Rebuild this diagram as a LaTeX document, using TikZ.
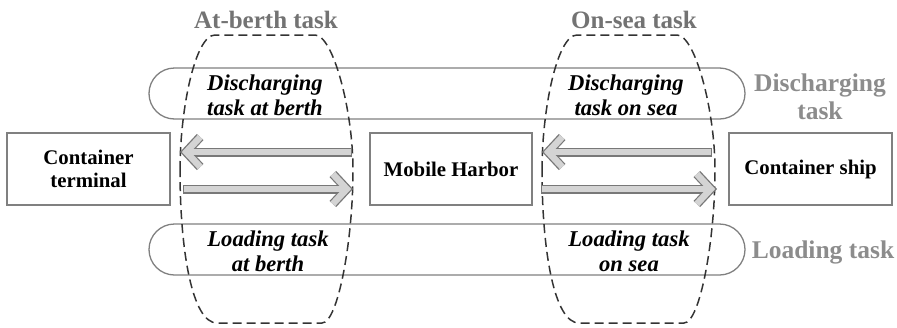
\documentclass[tikz,border=0pt]{standalone}
\usepackage{fontspec}
\setmainfont{Liberation Serif}
\usetikzlibrary{arrows.meta}
\definecolor{boxline}{RGB}{128,128,128}
\definecolor{tasktop}{RGB}{115,115,115}
\definecolor{taskside}{RGB}{140,140,140}
\definecolor{arrline}{RGB}{120,120,120}
\definecolor{arrfill}{RGB}{212,212,212}

\begin{document}
\begin{tikzpicture}[
    x=1pt, y=-1pt,
    party/.style={draw=boxline, line width=1.3pt, minimum width=163pt,
                  minimum height=72pt, align=center,
                  font=\fontsize{20.8}{23}\selectfont\bfseries},
    band/.style={draw=boxline, line width=1.3pt, rounded corners=25.5pt,
                 minimum width=596pt, minimum height=51pt},
    phase/.style={align=center, font=\fontsize{22.6}{25}\selectfont\bfseries\itshape},
    zone/.style={dash pattern=on 9pt off 5pt, line width=1.5pt, draw=black!80},
    zonelabel/.style={font=\fontsize{25}{28}\selectfont\bfseries, text=tasktop},
    flowlabel/.style={align=center, font=\fontsize{25.5}{28}\selectfont\bfseries,
                      text=taskside},
    flowout/.style={line width=9pt, draw=arrline,
                    -{Straight Barb[length=14pt, width=30pt]}},
    flowin/.style={line width=6.5pt, draw=arrfill, shorten >=1.8pt, shorten <=1.2pt,
                   -{Straight Barb[length=14pt, width=30pt]}}
  ]
    \useasboundingbox (0,0) rectangle (897,327);

    \node[band] (disband)  at (447,93.5)  {};
    \node[band] (loadband) at (447,249.5) {};

    \node[party] (terminal) at (88.5,169) {Container\\terminal};
    \node[party, minimum width=162pt] (harbor) at (451,169) {Mobile Harbor};
    \node[party] (ship)     at (810.5,169) {Container ship};

    % dashed task zones
    \draw[zone] (180,170) .. controls (180,110) and (195,35) .. (215,35)
      -- (315,35) .. controls (333,35) and (353,110) .. (353,170)
      .. controls (353,240) and (338,323) .. (322,323)
      -- (217,323) .. controls (192,323) and (180,250) .. (180,170);
    \draw[zone, shift={(362,0)}] (180,170) .. controls (180,110) and (195,35) .. (215,35)
      -- (315,35) .. controls (333,35) and (353,110) .. (353,170)
      .. controls (353,240) and (338,323) .. (322,323)
      -- (217,323) .. controls (192,323) and (180,250) .. (180,170);

    \node[zonelabel] (berthlbl) at (266,20) {At-berth task};
    \node[zonelabel] (sealbl)   at (634,20) {On-sea task};

    \coordinate (disberthS)  at (352,152);
    \coordinate (disberthE)  at (180,152);
    \coordinate (loadberthS) at (183,189);
    \coordinate (loadberthE) at (353,189);
    \coordinate (disseaS)    at (712,152);
    \coordinate (disseaE)    at (542,152);
    \coordinate (loadseaS)   at (541,189);
    \coordinate (loadseaE)   at (717,189);

    \draw[flowout] (disberthS)  -- (disberthE);
    \draw[flowin]  (disberthS)  -- (disberthE);
    \draw[flowout] (loadberthS) -- (loadberthE);
    \draw[flowin]  (loadberthS) -- (loadberthE);
    \draw[flowout] (disseaS)    -- (disseaE);
    \draw[flowin]  (disseaS)    -- (disseaE);
    \draw[flowout] (loadseaS)   -- (loadseaE);
    \draw[flowin]  (loadseaS)   -- (loadseaE);

    \node[phase] (disberth)  at (265,95)  {Discharging\\task at berth};
    \node[phase] (dissea)    at (626,95)  {Discharging\\task on sea};
    \node[phase] (loadberth) at (268,251) {Loading task\\at berth};
    \node[phase] (loadsea)   at (629,251) {Loading task\\on sea};

    \node[flowlabel] (disflow)  at (820,97)  {Discharging\\task};
    \node[flowlabel] (loadflow) at (823,252) {Loading task};
  \end{tikzpicture}
\end{document}
